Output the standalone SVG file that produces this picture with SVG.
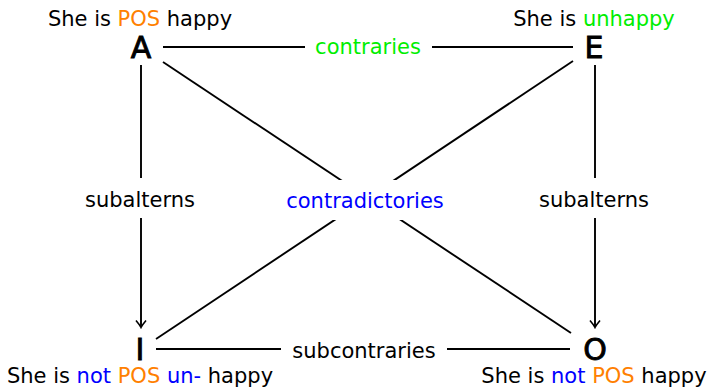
<svg xmlns="http://www.w3.org/2000/svg" width="710" height="388" viewBox="0 0 710 388">
<defs>
<style>
.t{font-family:"DejaVu Sans","Liberation Sans",sans-serif;font-size:21px;fill:#000}
.big{font-family:"DejaVu Sans","Liberation Sans",sans-serif;font-size:30px;fill:#000;stroke:#000;stroke-width:0.9}
.o{fill:#ff8000}.g{fill:#00ee00}.b{fill:#0000ff}
.ln{stroke:#000;stroke-width:1.9;fill:none}
.bg{fill:#fff}
</style>
<marker id="arr" viewBox="-8 -6 10 12" refX="0" refY="0" markerWidth="10" markerHeight="12" orient="auto" markerUnits="userSpaceOnUse">
<path d="M -6.5 -5 Q -2 -1.2 0.5 0 Q -2 1.2 -6.5 5" fill="none" stroke="#000" stroke-width="1.6"/>
</marker>
</defs>
<rect width="710" height="388" fill="#fff"/>
<g id="connectors">
<line class="ln" x1="163" y1="47" x2="573" y2="47"/>
<line class="ln" x1="141" y1="65" x2="141" y2="327" marker-end="url(#arr)"/>
<line class="ln" x1="595" y1="65" x2="595" y2="327" marker-end="url(#arr)"/>
<line class="ln" x1="156" y1="349" x2="570" y2="349"/>
<line class="ln" x1="163" y1="62" x2="571" y2="333"/>
<line class="ln" x1="573" y1="61" x2="156" y2="339"/>
<g id="lbl-contraries"><rect class="bg" x="305" y="33" width="127" height="28"/><text class="t g" x="368" y="54" text-anchor="middle">contraries</text></g>
<g id="lbl-sub1"><rect class="bg" x="78" y="178" width="126" height="40"/><text class="t" x="140" y="207" text-anchor="middle">subalterns</text></g>
<g id="lbl-sub2"><rect class="bg" x="532" y="178" width="126" height="40"/><text class="t" x="594" y="207" text-anchor="middle">subalterns</text></g>
<g id="lbl-subcontraries"><rect class="bg" x="281" y="335" width="166" height="28"/><text class="t" x="364" y="358" text-anchor="middle">subcontraries</text></g>
<g id="lbl-contradictories"><rect class="bg" x="280" y="180" width="172" height="40"/><text class="t b" x="365" y="208" text-anchor="middle">contradictories</text></g>
</g>
<g id="node-A"><text class="big" x="141" y="58" text-anchor="middle">A</text><text class="t" x="140" y="26" text-anchor="middle">She is <tspan class="o">POS</tspan> happy</text></g>
<g id="node-E"><text class="big" x="594" y="58" text-anchor="middle">E</text><text class="t" x="594" y="26" text-anchor="middle">She is <tspan class="g">unhappy</tspan></text></g>
<g id="node-I"><text class="big" x="140" y="360" text-anchor="middle">I</text><text class="t" x="140" y="383" text-anchor="middle">She is <tspan class="b">not</tspan> <tspan class="o">POS</tspan> <tspan class="b">un-</tspan> happy</text></g>
<g id="node-O"><text class="big" x="595" y="360" text-anchor="middle">O</text><text class="t" x="594" y="383" text-anchor="middle">She is <tspan class="b">not</tspan> <tspan class="o">POS</tspan> happy</text></g>
</svg>
